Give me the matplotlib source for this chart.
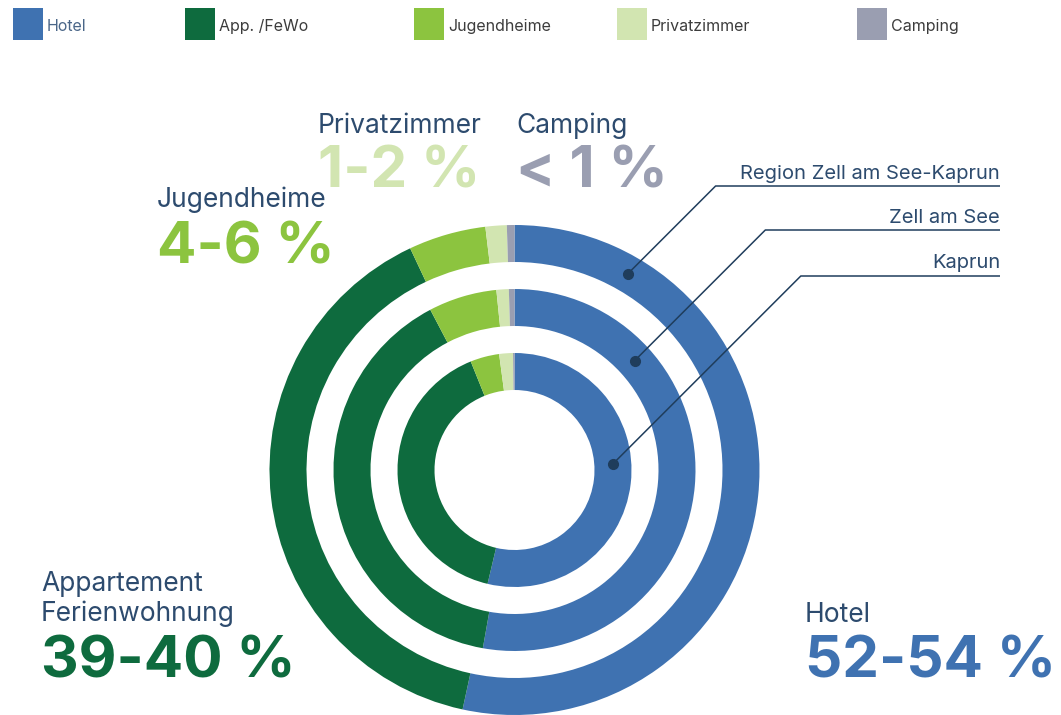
import numpy as np
import matplotlib
matplotlib.use("Agg")
from matplotlib import pyplot as plt
from matplotlib.patches import Rectangle

plt.rcParams['font.family'] = ['Inter', 'DejaVu Sans']

# Kategorien und Farben
categories = ['Hotel', 'App. /FeWo', 'Jugendheime', 'Privatzimmer', 'Camping']
colors = ['#3f72b1', '#0e6b3e', '#8cc43f', '#d2e5b1', '#9a9eb1']

# Anteile in Prozent (außen -> innen)
region_share = [53.4, 39.6, 5.1, 1.4, 0.5]    # Region Zell am See-Kaprun
zell_share = [52.8, 39.5, 6.1, 1.1, 0.5]      # Zell am See
kaprun_share = [53.7, 40.2, 4.0, 1.9, 0.2]    # Kaprun

ring_names = ['Region Zell am See-Kaprun', 'Zell am See', 'Kaprun']
ring_values = [region_share, zell_share, kaprun_share]

big_labels = ['Hotel', 'Appartement\nFerienwohnung', 'Jugendheime', 'Privatzimmer', 'Camping']
big_ranges = ['52-54 %', '39-40 %', '4-6 %', '1-2 %', '< 1 %']

navy = '#2d4b6e'
line_col = '#1f3d5c'

fig = plt.figure(figsize=(10.61, 7.15), dpi=100)
ax = fig.add_axes([0, 0, 1, 1])

cx, cy = 514.5, 470
radii = [245, 181, 117]
width = 37

# y-Achse zeigt nach unten (Pixelkoordinaten), daher startangle=-90 + counterclock=True
for vals, r in zip(ring_values, radii):
    ax.pie(vals, colors=colors, radius=r, center=(cx, cy), startangle=-90,
           counterclock=True, wedgeprops=dict(width=width, linewidth=0))

ax.set_xlim(0, 1061)
ax.set_ylim(715, 0)
ax.set_aspect('equal')
ax.axis('off')

# Legende oben
leg_x = [13, 185, 414, 617, 857]
for x, c, name in zip(leg_x, colors, categories):
    ax.add_patch(Rectangle((x, 8), 30, 32, color=c, lw=0))
    ax.text(x + 34, 31, name, fontsize=11.5, va='baseline', ha='left',
            color='#4a6688' if name == 'Hotel' else '#3c3c3c')

# Beschriftungen der Ringe mit Führungslinien
dot_angles = [30, 47.7, 86.5]
line_y = [186, 230, 276]
name_y = [179, 223, 268]
for name, r, a, ly, ny in zip(ring_names, radii, dot_angles, line_y, name_y):
    rm = r - width / 2
    dx = cx + rm * np.sin(np.radians(a))
    dy = cy - rm * np.cos(np.radians(a))
    ex = dx + (dy - ly)
    ax.plot([dx, ex, 1000], [dy, ly, ly], color=line_col, lw=1.1, solid_capstyle='butt')
    ax.plot(dx, dy, 'o', color=line_col, ms=7)
    ax.text(1000, ny, name, fontsize=14.5, ha='right', va='baseline', color=navy)

# Große Kategorie-Beschriftungen
lab_pos = [(805, 622), (41, 621), (157, 207), (318, 133), (516, 133)]
num_pos = [(805, 678), (41, 677), (157, 264), (318, 188), (516, 188)]
for lab, rng, c, (lx, ly), (nx, ny) in zip(big_labels, big_ranges, colors, lab_pos, num_pos):
    ax.text(lx, ly, lab, fontsize=19, ha='left', va='baseline', color=navy, linespacing=1.15)
    ax.text(nx, ny, rng, fontsize=42, fontweight='bold', ha='left', va='baseline', color=c)

fig.savefig('out.png', dpi=100)
